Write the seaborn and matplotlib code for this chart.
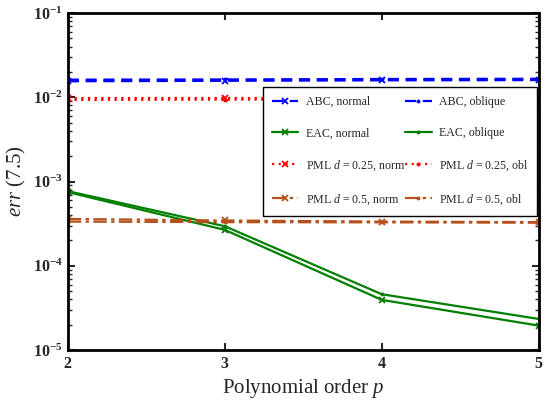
import numpy as np
import pandas as pd
import matplotlib
matplotlib.use("Agg")
import matplotlib.pyplot as plt
import matplotlib.ticker as mticker
import seaborn as sns

# polynomial order
orders = [2, 3, 4, 5]

# err (7.5) values
abc_normal = [0.0155, 0.0157, 0.0159, 0.0160]
abc_oblique = [0.0162, 0.0163, 0.0165, 0.0166]
eac_normal = [7.5e-4, 2.67e-4, 3.94e-5, 1.95e-5]
eac_oblique = [7.7e-4, 2.95e-4, 4.6e-5, 2.34e-5]
pml25_normal = [0.0098, 0.0098, 0.0098, 0.0098]
pml25_oblique = [0.0093, 0.0094, 0.0094, 0.0094]
pml05_normal = [3.6e-4, 3.45e-4, 3.35e-4, 3.3e-4]
pml05_oblique = [3.35e-4, 3.3e-4, 3.28e-4, 3.25e-4]

sns.set_style("ticks")
plt.rcParams['font.family'] = ['Liberation Serif', 'DejaVu Serif']
plt.rcParams['mathtext.fontset'] = 'custom'
plt.rcParams['mathtext.rm'] = 'Liberation Serif'
plt.rcParams['mathtext.it'] = 'Liberation Serif:italic'
plt.rcParams['mathtext.bf'] = 'Liberation Serif:bold'

blue = '#0000ff'
green = '#008000'
red = '#ff0000'
brown = '#b5501c'

dash = (0, (5, 3))
dot = (0, (1, 2))
dashdot = (0, (6, 2, 1.5, 2))

series = [
    ("ABC, normal", abc_normal, blue, dash, 'x'),
    ("ABC, oblique", abc_oblique, blue, dash, '.'),
    ("EAC, normal", eac_normal, green, '-', 'x'),
    ("EAC, oblique", eac_oblique, green, '-', '.'),
    (r"PML $d$ = 0.25, norm", pml25_normal, red, dot, 'x'),
    (r"PML $d$ = 0.25, obl", pml25_oblique, red, dot, '.'),
    (r"PML $d$ = 0.5, norm", pml05_normal, brown, dashdot, 'x'),
    (r"PML $d$ = 0.5, obl", pml05_oblique, brown, dashdot, '.'),
]

fig = plt.figure(figsize=(5.56, 4.08), dpi=100)
ax = fig.add_axes([0.122, 0.142, 0.847, 0.826])

for label, vals, color, ls, mk in series:
    df = pd.DataFrame({"p": orders, "err": vals})
    sns.lineplot(data=df, x="p", y="err", ax=ax, color=color, linestyle=ls,
                 marker=mk, markersize=5 if mk == 'x' else 3,
                 markeredgewidth=1.3, markeredgecolor=color, markerfacecolor=color,
                 linewidth=1.6, label=label)

ax.set_yscale('log')
ax.set_xlim(2, 5)
ax.set_ylim(1e-5, 1e-1)
ax.set_xticks(orders)
ax.xaxis.set_major_formatter(mticker.FuncFormatter(lambda v, pos: r"$\mathbf{%d}$" % v))
ax.yaxis.set_major_locator(mticker.LogLocator(base=10, numticks=10))
ax.yaxis.set_minor_locator(mticker.LogLocator(base=10, subs=np.arange(2, 10), numticks=10))
ax.yaxis.set_minor_formatter(mticker.NullFormatter())
ax.yaxis.set_major_formatter(mticker.FuncFormatter(
    lambda v, pos: r"$\mathbf{10^{%d}}$" % int(round(np.log10(v)))))

ax.tick_params(which='both', direction='in', top=True, right=True, labelsize=11.5)
ax.tick_params(which='major', length=5, width=1.5)
ax.tick_params(which='minor', length=3, width=1.0)
ax.tick_params(axis='x', pad=4)
for sp in ax.spines.values():
    sp.set_linewidth(2)
    sp.set_color('black')

ax.set_xlabel(r"Polynomial order $p$", fontsize=15)
ax.set_ylabel(r"$err$ (7.5)", fontsize=15)

# row-wise legend: normal series in left column, oblique in right
handles, labels = ax.get_legend_handles_labels()
order = [0, 2, 4, 6, 1, 3, 5, 7]
leg = ax.legend([handles[i] for i in order], [labels[i] for i in order],
                ncol=2, loc='upper right', bbox_to_anchor=(0.997, 0.78),
                borderaxespad=0, fontsize=8.6, labelspacing=1.6, handlelength=2.2,
                columnspacing=0.0, handletextpad=0.6, borderpad=0.75,
                fancybox=False, framealpha=1)
leg.get_frame().set_edgecolor('black')
leg.get_frame().set_linewidth(1.0)

plt.savefig("out.png", dpi=100)
plt.close()
